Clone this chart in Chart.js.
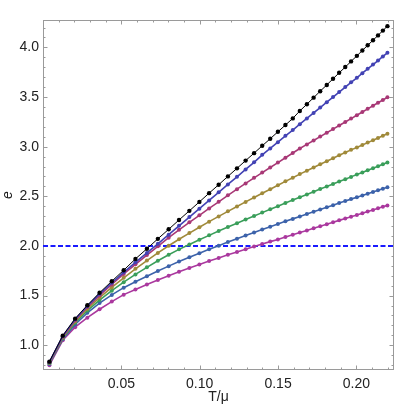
<!DOCTYPE html>
<html><head><meta charset="utf-8">
<script src="https://cdn.jsdelivr.net/npm/chart.js@4.4.0/dist/chart.umd.min.js"></script>
<style>html,body{margin:0;padding:0;background:#fff;}#wrap{width:415px;height:410px;}</style>
</head><body><div id="wrap"><canvas id="c" width="415" height="410"></canvas></div>
<script>
const tOverMu = [0.0041,0.0126,0.0205,0.0283,0.0361,0.0439,0.0515,0.0590,0.0663,0.0733,0.0802,0.0868,0.0934,0.0998,0.1060,0.1121,0.1180,0.1238,0.1293,0.1347,0.1399,0.1450,0.1499,0.1547,0.1594,0.1639,0.1684,0.1727,0.1769,0.1811,0.1851,0.1890,0.1929,0.1966,0.2003,0.2038,0.2072,0.2106,0.2138,0.2169,0.2198];
const eBlack = [0.835,1.097,1.268,1.403,1.529,1.645,1.756,1.870,1.972,2.072,2.168,2.262,2.354,2.444,2.532,2.617,2.701,2.782,2.860,2.935,3.009,3.080,3.150,3.218,3.285,3.360,3.428,3.494,3.559,3.622,3.684,3.744,3.802,3.859,3.915,3.969,4.021,4.072,4.121,4.169,4.214];
const eBlue = [0.832,1.092,1.262,1.395,1.518,1.630,1.735,1.835,1.930,2.022,2.114,2.203,2.291,2.376,2.459,2.540,2.620,2.697,2.771,2.843,2.918,2.983,3.046,3.109,3.168,3.227,3.284,3.340,3.394,3.448,3.500,3.550,3.600,3.648,3.694,3.740,3.784,3.827,3.868,3.909,3.946];
const eMagenta = [0.828,1.085,1.252,1.385,1.503,1.613,1.718,1.815,1.908,1.997,2.083,2.163,2.238,2.309,2.378,2.445,2.510,2.572,2.630,2.686,2.739,2.790,2.840,2.889,2.936,2.982,3.023,3.063,3.102,3.140,3.177,3.214,3.249,3.283,3.317,3.349,3.381,3.412,3.442,3.470,3.497];
const eOlive = [0.825,1.078,1.240,1.368,1.480,1.583,1.680,1.770,1.853,1.930,2.002,2.068,2.130,2.189,2.245,2.298,2.349,2.398,2.444,2.489,2.531,2.572,2.612,2.651,2.688,2.724,2.758,2.791,2.823,2.854,2.884,2.913,2.941,2.968,2.992,3.017,3.041,3.065,3.088,3.110,3.130];
const eGreen = [0.820,1.070,1.226,1.350,1.455,1.550,1.636,1.714,1.785,1.851,1.912,1.966,2.015,2.062,2.107,2.150,2.191,2.230,2.267,2.302,2.336,2.369,2.401,2.432,2.462,2.491,2.519,2.546,2.573,2.599,2.624,2.649,2.673,2.696,2.719,2.741,2.762,2.783,2.803,2.823,2.841];
const eSteel = [0.812,1.062,1.210,1.327,1.425,1.507,1.580,1.640,1.696,1.748,1.797,1.843,1.886,1.927,1.966,2.003,2.039,2.073,2.105,2.136,2.166,2.194,2.221,2.248,2.273,2.298,2.322,2.345,2.368,2.390,2.411,2.432,2.452,2.472,2.491,2.509,2.527,2.544,2.561,2.577,2.592];
const ePurple = [0.800,1.050,1.182,1.278,1.363,1.440,1.510,1.562,1.611,1.657,1.700,1.740,1.778,1.814,1.848,1.880,1.911,1.940,1.968,1.994,2.020,2.044,2.066,2.090,2.113,2.135,2.157,2.178,2.199,2.219,2.239,2.258,2.277,2.295,2.313,2.330,2.347,2.363,2.379,2.395,2.409];
const refLineX = [0, 0.224];
const refLineY = [2.0, 2.0];
const xTickValues = [0.05, 0.10, 0.15, 0.20];
const yTickValues = [1.0, 1.5, 2.0, 2.5, 3.0, 3.5, 4.0];
const xMinorStep = 0.01, yMinorStep = 0.1;

const pts = (xs, ys) => xs.map((x, i) => ({x: x, y: ys[i]}));
function series(label, ys, color, order) {
  return {label, data: pts(tOverMu, ys), borderColor: color, backgroundColor: color,
    borderWidth: 1.6, pointRadius: 2, pointBorderWidth: 0, pointHoverRadius: 2,
    tension: 0, fill: false, order};
}
const datasets = [
  {label: 'ref', data: pts(refLineX, refLineY), borderColor: '#1a1aff', borderWidth: 2,
   borderDash: [5, 2.5], pointRadius: 0, fill: false, order: 8},
  series('s6', ePurple, 'rgb(170,56,158)', 7),
  series('s5', eSteel, 'rgb(60,98,170)', 6),
  series('s4', eGreen, 'rgb(58,158,90)', 5),
  series('s3', eOlive, 'rgb(160,138,58)', 4),
  series('s2', eMagenta, 'rgb(168,56,118)', 3),
  series('s1', eBlue, 'rgb(66,66,180)', 2),
  Object.assign(series('s0', eBlack, '#000000', 1), {borderWidth: 1, pointRadius: 2.2, pointHoverRadius: 2.2})
];

const frameTicks = {
  id: 'frameTicks',
  beforeDatasetsDraw(chart) {
    const {ctx, chartArea: a, scales: {x, y}} = chart;
    ctx.save();
    ctx.strokeStyle = '#9a9a9a';
    ctx.lineWidth = 1;
    ctx.strokeRect(a.left + 0.5, a.top + 0.5, a.right - a.left - 1, a.bottom - a.top - 1);
    const near = (v, arr) => arr.some(t => Math.abs(t - v) < 1e-6);
    ctx.beginPath();
    for (let k = 0; k * xMinorStep <= x.max + 1e-9; k++) {
      const v = +(k * xMinorStep).toFixed(4);
      if (v < x.min) continue;
      const px = Math.round(x.getPixelForValue(v)) + 0.5;
      const L = near(v, xTickValues) ? 4.5 : 2.5;
      ctx.moveTo(px, a.bottom); ctx.lineTo(px, a.bottom - L);
      ctx.moveTo(px, a.top); ctx.lineTo(px, a.top + L);
    }
    for (let k = 0; k * yMinorStep <= y.max + 1e-9; k++) {
      const v = +(k * yMinorStep).toFixed(4);
      if (v < y.min) continue;
      const py = Math.round(y.getPixelForValue(v)) + 0.5;
      const L = near(v, yTickValues) ? 4.5 : 2.5;
      ctx.moveTo(a.left, py); ctx.lineTo(a.left + L, py);
      ctx.moveTo(a.right, py); ctx.lineTo(a.right - L, py);
    }
    ctx.stroke();
    ctx.restore();
  }
};

const font = {family: "'Liberation Sans', Arial, sans-serif", size: 14};
new Chart(document.getElementById('c'), {
  type: 'line',
  data: {datasets},
  plugins: [frameTicks],
  options: {
    responsive: false, animation: false, devicePixelRatio: 1,
    layout: {padding: {left: 0, top: 20, right: 21, bottom: 0}},
    plugins: {legend: {display: false}, tooltip: {enabled: false}},
    scales: {
      x: {type: 'linear', min: 0, max: 0.224,
        afterBuildTicks: s => { s.ticks = xTickValues.map(v => ({value: v})); },
        afterFit: s => { s.height = 40; },
        grid: {display: false, drawTicks: false}, border: {display: false},
        ticks: {font, color: '#222', padding: 6, maxRotation: 0, callback: v => v.toFixed(2)},
        title: {display: true, text: 'T/\u03bc', font, color: '#222', padding: {top: 0, bottom: 4}}
      },
      y: {type: 'linear', min: 0.751, max: 4.276,
        afterBuildTicks: s => { s.ticks = yTickValues.map(v => ({value: v})); },
        afterFit: s => { s.width = 43; },
        grid: {display: false, drawTicks: false}, border: {display: false},
        ticks: {font, color: '#222', padding: 4, callback: v => v.toFixed(1)},
        title: {display: true, text: 'e', font: Object.assign({}, font, {style: 'italic'}), color: '#222', padding: {top: 0, bottom: 2}}
      }
    }
  }
});
</script></body></html>
